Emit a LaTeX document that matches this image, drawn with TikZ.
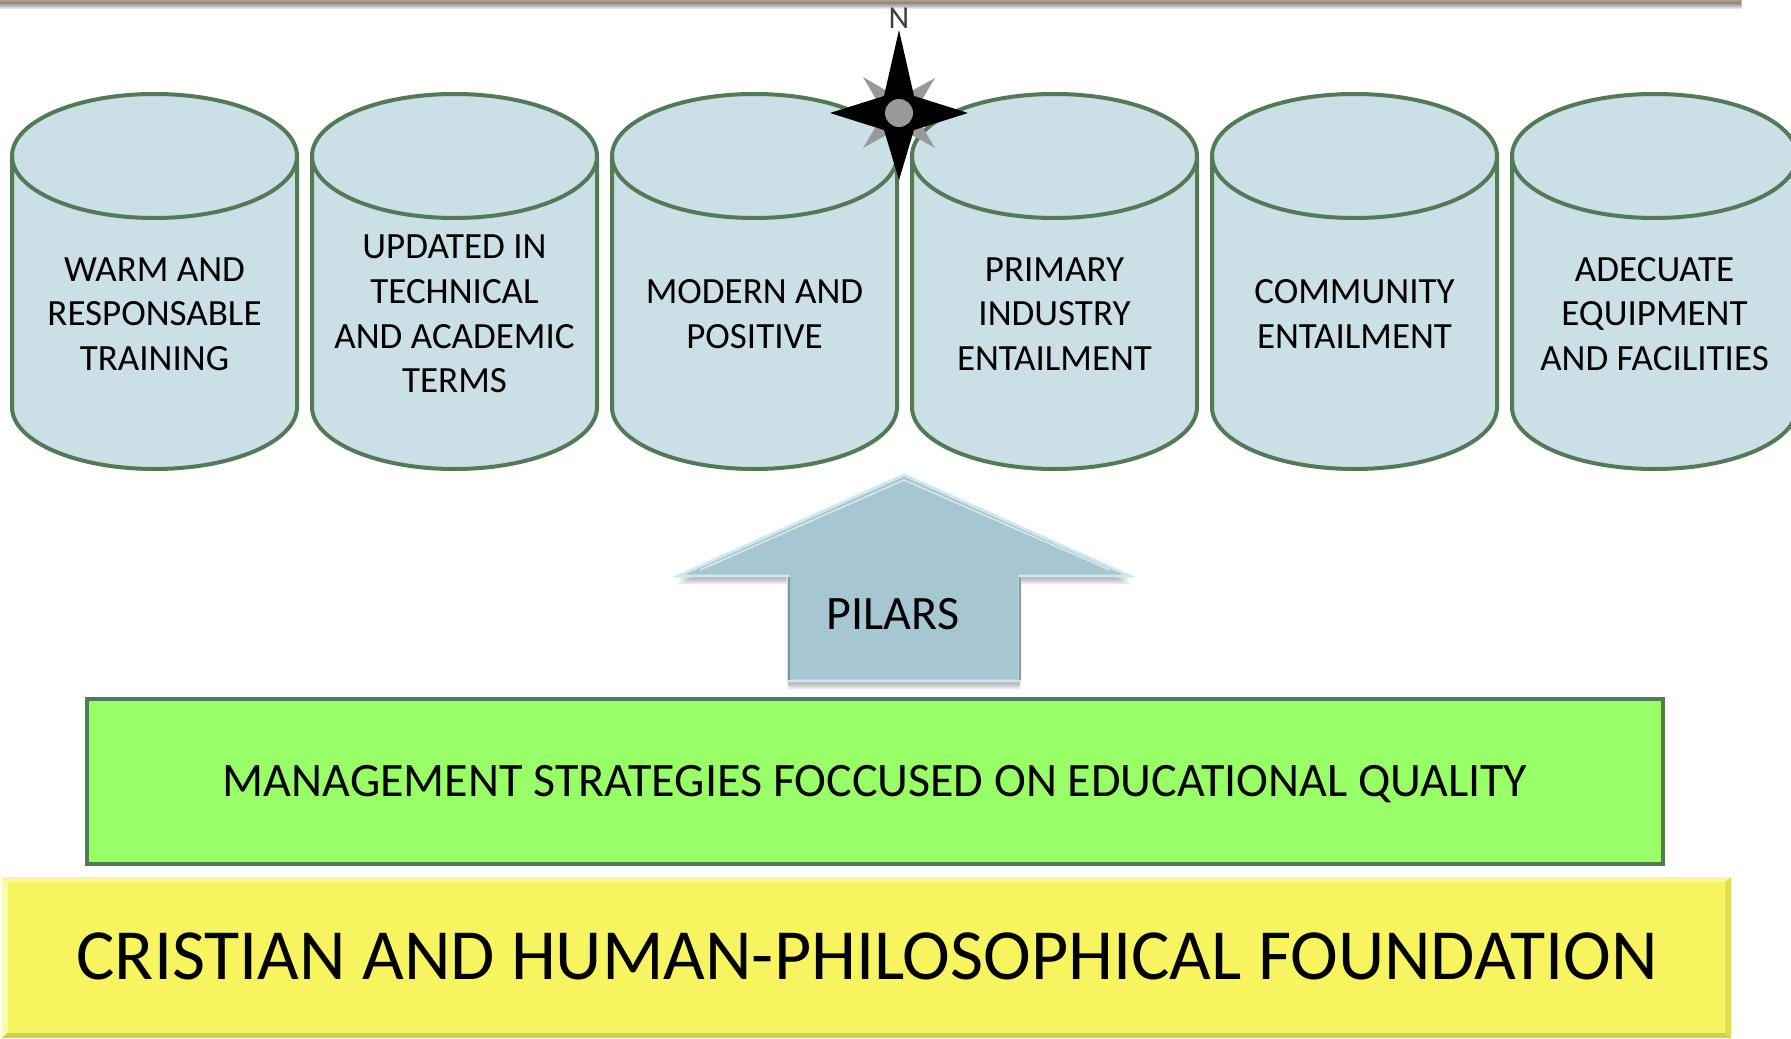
\documentclass[tikz,border=0pt]{standalone}
\usepackage{fontspec}
\setmainfont{Carlito}
\usetikzlibrary{calc}
\definecolor{cylfill}{HTML}{CBDFE7}
\definecolor{cylline}{HTML}{527A55}
\definecolor{arrowfill}{HTML}{A6C7D2}
\definecolor{arrowlight}{HTML}{CFE8F0}
\definecolor{greenfill}{HTML}{99FF66}
\definecolor{yellowfill}{HTML}{F7F55F}
\definecolor{yellowdark}{HTML}{CFCD4E}
\definecolor{yellowlight}{HTML}{FBFAA8}
\definecolor{barcol}{HTML}{B49A80}
\definecolor{stargray}{HTML}{999999}
\tikzset{
  cylbody/.style={fill=cylfill,draw=cylline,line width=2pt,line join=round},
  cyllabel/.style={align=center,font=\fontsize{18.5}{22.3}\selectfont,text=black,inner sep=0pt},
  softshadow/.style={fill=black,opacity=0.09,draw=none}
}
\newcommand{\cyl}[3]{%
  \draw[cylbody] (#1,156) -- (#1,407) arc[start angle=180,end angle=0,x radius=142.5,y radius=62] -- (#1+285,156) arc[start angle=0,end angle=-180,x radius=142.5,y radius=62] -- cycle;
  \draw[cylbody,fill=none] (#1,156) arc[start angle=180,end angle=0,x radius=142.5,y radius=62];
  \node[cyllabel] (#2) at (#1+142.5,314) {#3};
}
\begin{document}
\begin{tikzpicture}[x=0.5pt,y=-0.5pt]
\useasboundingbox (0,0) rectangle (1791,1038);
% top bar
\foreach \o in {1,2,3,4,5,6,7}{\fill[softshadow] (0,0) rectangle (1740+\o/3,2+\o);}
\fill[barcol] (0,0) rectangle (1740,2);
% cylinders
\begin{scope}
\clip (0,0) rectangle (1791,1038);
\cyl{12}{warm}{WARM AND\\RESPONSABLE\\TRAINING}
\cyl{312}{updated}{UPDATED IN\\TECHNICAL\\AND ACADEMIC\\TERMS}
\cyl{612}{modern}{MODERN AND\\POSITIVE}
\cyl{912}{primary}{PRIMARY\\INDUSTRY\\ENTAILMENT}
\cyl{1212}{community}{COMMUNITY\\ENTAILMENT}
\cyl{1512}{adequate}{ADECUATE\\EQUIPMENT\\AND FACILITIES}
\end{scope}
% compass
\coordinate (c) at (899,113);
\fill[stargray] (863,77) -- (899,98) -- (935,78) -- (914,113) -- (935,148) -- (899,128) -- (863,148) -- (884,113) -- cycle;
\fill[black] (899,30) -- (914,96) -- (968,113) -- (914,130) -- (899,180) -- (884,130) -- (830,113) -- (884,96) -- cycle;
\fill[stargray] (c) circle[radius=14];
\node[font=\fontsize{16}{18}\selectfont,text=black!75,inner sep=0pt] (north) at (899,18) {N};
% arrow
\foreach \o in {2,4,6,8}{
  \fill[softshadow] (904,473+\o) -- (1130,576+\o) -- (1020,576+\o) -- (1020,681+\o) -- (788,681+\o) -- (788,576+\o) -- (678,576+\o) -- cycle;}
\fill[arrowfill,draw=arrowlight,line width=1.4pt,line join=miter] (904,475) -- (1130,576) -- (1020,576) -- (1020,681) -- (788,681) -- (788,576) -- (678,576) -- cycle;
\draw[white,opacity=0.6,line width=0.7pt] (700,570) -- (904,480) -- (1110,570);
\draw[gray!70!arrowfill,line width=1.2pt] (789,577) -- (789,680);
\draw[gray!60!arrowfill,line width=1pt] (1019.5,577) -- (1019.5,680);
\node[font=\fontsize{24}{28}\selectfont,text=black,inner sep=0pt] (pilars) at (893,614) {PILARS};
% green box
\node[draw=cylline,line width=2pt,fill=greenfill,minimum width=1576pt/2,minimum height=165pt/2,inner sep=0pt,anchor=north west,font=\fontsize{24}{28}\selectfont,text=black] (mgmt) at (85,697) {\raisebox{-7.7pt}[0pt][0pt]{MANAGEMENT STRATEGIES FOCCUSED ON EDUCATIONAL QUALITY}};
% yellow box
\fill[yellowfill] (2,877) rectangle (1731,1038);
\fill[yellowlight] (2,877) -- (8,883) -- (8,1032) -- (2,1038) -- cycle;
\fill[yellowlight!70!yellowfill] (2,877) -- (1731,877) -- (1725,882) -- (8,882) -- cycle;
\fill[yellowdark] (2,1038) -- (8,1033) -- (1725,1033) -- (1731,1038) -- cycle;
\fill[yellowdark!60!yellowfill] (1731,877) -- (1725,882) -- (1725,1033) -- (1731,1038) -- cycle;
\node[font=\fontsize{36}{40}\selectfont,text=black,inner sep=0pt] (found) at (867,956) {CRISTIAN AND HUMAN-PHILOSOPHICAL FOUNDATION};
\end{tikzpicture}
\end{document}
